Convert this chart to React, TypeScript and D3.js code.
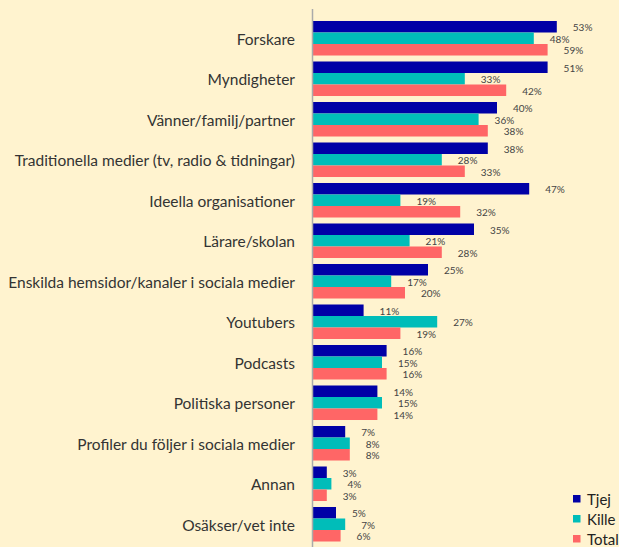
import React from "react";
import * as d3 from "d3";

const categories = [
  "Forskare",
  "Myndigheter",
  "Vänner/familj/partner",
  "Traditionella medier (tv, radio & tidningar)",
  "Ideella organisationer",
  "Lärare/skolan",
  "Enskilda hemsidor/kanaler i sociala medier",
  "Youtubers",
  "Podcasts",
  "Politiska personer",
  "Profiler du följer i sociala medier",
  "Annan",
  "Osäkser/vet inte",
];
const series = ["Tjej", "Kille", "Total"];
const tjej = [53, 51, 40, 38, 47, 35, 25, 11, 16, 14, 7, 3, 5];
const kille = [48, 33, 36, 28, 19, 21, 17, 27, 15, 15, 8, 4, 7];
const total = [51, 42, 38, 33, 32, 28, 20, 19, 16, 14, 8, 3, 6];
const tjejLabels = tjej.map((v) => v + "%");
const killeLabels = kille.map((v) => v + "%");
const totalLabels = ["59%", "42%", "38%", "33%", "32%", "28%", "20%", "19%", "16%", "14%", "8%", "3%", "6%"];

const W = 619;
const H = 547;
const colors: Record<string, string> = { Tjej: "#0000a6", Kille: "#00bdb9", Total: "#ff6666" };
const FONT = "Lato, 'Noto Sans', sans-serif";

export default function App() {
  const x = d3.scaleLinear().domain([0, 60]).range([313, 313 + 276]);
  const y = d3
    .scaleBand<string>()
    .domain(categories)
    .range([18, 544.5])
    .paddingInner(0.148)
    .paddingOuter(0.074);
  const ys = d3.scaleBand<string>().domain(series).range([0, y.bandwidth()]);
  const vals: Record<string, number[]> = { Tjej: tjej, Kille: kille, Total: total };
  const labs: Record<string, string[]> = { Tjej: tjejLabels, Kille: killeLabels, Total: totalLabels };

  return (
    <div style={{ position: "fixed", left: 0, top: 0 }}>
      <svg width={W} height={H} style={{ display: "block", background: "#fff3cf" }}>
        <rect x={0} y={0} width={W} height={H} fill="#fff3cf" />
        {categories.map((c, i) => (
          <g key={c} transform={`translate(0,${y(c)})`}>
            <text
              x={295}
              y={y.bandwidth() / 2 + 0.5}
              textAnchor="end"
              dominantBaseline="central"
              fontFamily={FONT}
              fontSize={15.5}
              fill="#333"
            >
              {c}
            </text>
            {series.map((s) => (
              <g key={s}>
                <rect
                  x={x(0)}
                  y={ys(s)}
                  width={x(vals[s][i]) - x(0)}
                  height={ys.bandwidth()}
                  fill={colors[s]}
                />
                <text
                  x={x(vals[s][i]) + 16}
                  y={(ys(s) as number) + ys.bandwidth() / 2 + 0.5}
                  dominantBaseline="central"
                  fontFamily={FONT}
                  fontSize={10}
                  fill="#444"
                >
                  {labs[s][i]}
                </text>
              </g>
            ))}
          </g>
        ))}
        <line x1={312.5} x2={312.5} y1={9} y2={H} stroke="#aaa" strokeWidth={1.5} />
        {series.map((s, i) => (
          <g key={s} transform={`translate(573,${495 + i * 20})`}>
            <rect x={0} y={0} width={7.5} height={7.5} fill={colors[s]} />
            <text x={14} y={4} dominantBaseline="central" fontFamily={FONT} fontSize={15} fill="#222">
              {s}
            </text>
          </g>
        ))}
      </svg>
    </div>
  );
}
